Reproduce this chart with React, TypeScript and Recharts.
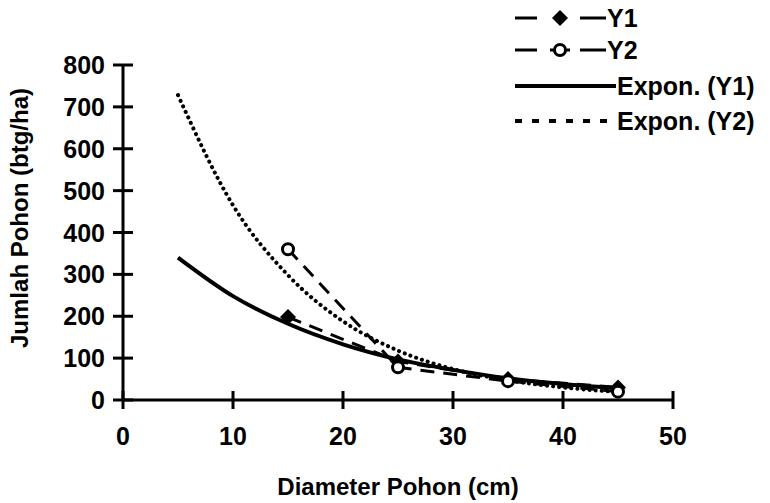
import React from "react";
import { LineChart, Line, XAxis, YAxis, Legend } from "recharts";

// observed data (diameter classes)
const diameterClasses = [15, 25, 35, 45];
const y1Values = [198, 92, 50, 30];
const y2Values = [360, 78, 45, 20];

// exponential trend curves
const trendDiameters = [5, 10, 15, 20, 25, 30, 35, 40, 45];
const y1Trend = [340, 248, 182, 133, 97, 72, 52, 38, 28];
const y2Trend = [728, 465, 298, 188, 118, 74, 47, 30, 19];

const xTicks = [0, 10, 20, 30, 40, 50];
const yTicks = [0, 100, 200, 300, 400, 500, 600, 700, 800];

const FONT = "'Liberation Sans', Arial, sans-serif";
const TICK_GAP = 18;
const TEXT = { fontFamily: FONT, fontWeight: "bold" as const, fill: "#000" };

const toPoints = (xs: number[], ys: number[]) => xs.map((x, i) => ({ x, y: ys[i] }));

const y1Data = toPoints(diameterClasses, y1Values);
const y2Data = toPoints(diameterClasses, y2Values);
const y1TrendData = toPoints(trendDiameters, y1Trend);
const y2TrendData = toPoints(trendDiameters, y2Trend);

// tick marks cross the axis line on both sides
const XTick = ({ x, y, payload }: any) => (
  <g>
    <line x1={x} x2={x} y1={y - TICK_GAP - 9} y2={y - TICK_GAP + 9} stroke="#000" strokeWidth={3} />
    <text x={x} y={y} dy={27} textAnchor="middle" fontSize={25} {...TEXT}>
      {payload.value}
    </text>
  </g>
);

const YTick = ({ x, y, payload }: any) => (
  <g>
    <line x1={x + TICK_GAP - 10} x2={x + TICK_GAP + 10} y1={y} y2={y} stroke="#000" strokeWidth={3} />
    <text x={x} y={y} dy={9} textAnchor="end" fontSize={25} {...TEXT}>
      {payload.value}
    </text>
  </g>
);

const Diamond = ({ cx, cy }: any) => (
  <path d={`M${cx},${cy - 8} L${cx + 8},${cy} L${cx},${cy + 8} L${cx - 8},${cy} Z`} fill="#000" />
);

const OpenCircle = ({ cx, cy }: any) => (
  <circle cx={cx} cy={cy} r={5.5} fill="#fff" stroke="#000" strokeWidth={3} />
);

const YLabel = () => (
  <text
    x={19}
    y={218}
    transform="rotate(-90, 19, 218)"
    textAnchor="middle"
    dominantBaseline="central"
    fontSize={24}
    {...TEXT}
  >
    Jumlah Pohon (btg/ha)
  </text>
);

const legendRows = [
  { name: "Y1", kind: "y1" },
  { name: "Y2", kind: "y2" },
  { name: "Expon. (Y1)", kind: "t1" },
  { name: "Expon. (Y2)", kind: "t2" },
];
const legendY = [18, 50, 86, 121];

const renderLegend = () => (
  <svg width={260} height={140}>
    {legendRows.map((r, i) => {
      const cy = legendY[i];
      let sym: React.ReactNode = null;
      if (r.kind === "y1" || r.kind === "y2") {
        sym = (
          <g>
            <line x1={5} x2={27} y1={cy} y2={cy} stroke="#000" strokeWidth={3} />
            <line x1={70} x2={96} y1={cy} y2={cy} stroke="#000" strokeWidth={3} />
            {r.kind === "y1" ? (
              <Diamond cx={50} cy={cy} />
            ) : (
              <>
                <line x1={40} x2={60} y1={cy} y2={cy} stroke="#000" strokeWidth={3} />
                <OpenCircle cx={50} cy={cy} />
              </>
            )}
          </g>
        );
      } else if (r.kind === "t1") {
        sym = <line x1={5} x2={106} y1={cy} y2={cy} stroke="#000" strokeWidth={4} />;
      } else {
        sym = <line x1={5} x2={106} y1={cy} y2={cy} stroke="#000" strokeWidth={4} strokeDasharray="7 10" />;
      }
      return (
        <g key={r.name}>
          {sym}
          <text x={r.kind.startsWith("y") ? 97 : 107} y={cy} dy={9} fontSize={25} {...TEXT}>
            {r.name}
          </text>
        </g>
      );
    })}
  </svg>
);

export default function App() {
  return (
    <div style={{ position: "absolute", left: 0, top: 0, width: 770, height: 503, background: "#fff" }}>
      <LineChart width={770} height={503} margin={{ top: 65, right: 97, bottom: 0, left: 0 }}>
        <XAxis
          type="number"
          dataKey="x"
          domain={[0, 50]}
          ticks={xTicks}
          height={103}
          axisLine={{ stroke: "#000", strokeWidth: 3 }}
          tickLine={false}
          tickSize={0}
          tickMargin={TICK_GAP}
          tick={<XTick />}
          label={{
            value: "Diameter Pohon (cm)",
            position: "insideBottom",
            offset: 8,
            style: { ...TEXT, fontSize: 24 },
          }}
        />
        <YAxis
          type="number"
          domain={[0, 800]}
          ticks={yTicks}
          width={123}
          axisLine={{ stroke: "#000", strokeWidth: 3 }}
          tickLine={false}
          tickSize={0}
          tickMargin={TICK_GAP}
          tick={<YTick />}
          label={<YLabel />}
        />
        <Legend
          layout="vertical"
          align="center"
          verticalAlign="middle"
          content={renderLegend}
          wrapperStyle={{ left: 510, top: 0, width: 260, height: 140 }}
        />
        <Line data={y1TrendData} dataKey="y" name="Expon. (Y1)" type="monotone" stroke="#000" strokeWidth={4} dot={false} isAnimationActive={false} />
        <Line data={y2TrendData} dataKey="y" name="Expon. (Y2)" type="monotone" stroke="#000" strokeWidth={4} strokeDasharray="0.1 6" strokeLinecap="round" dot={false} isAnimationActive={false} />
        <Line data={y1Data} dataKey="y" name="Y1" type="linear" stroke="#000" strokeWidth={3} strokeDasharray="14 9" dot={<Diamond />} isAnimationActive={false} />
        <Line data={y2Data} dataKey="y" name="Y2" type="linear" stroke="#000" strokeWidth={3} strokeDasharray="14 9" dot={<OpenCircle />} isAnimationActive={false} />
      </LineChart>
    </div>
  );
}
